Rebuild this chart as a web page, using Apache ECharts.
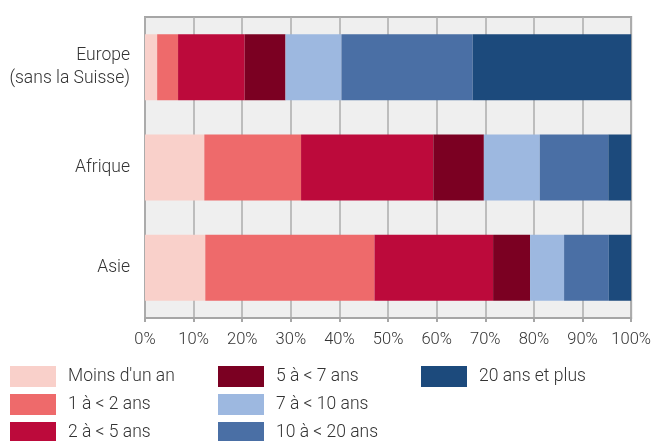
<!DOCTYPE html>
<html>
<head>
<meta charset="utf-8">
<script src="https://cdn.jsdelivr.net/npm/echarts@6/dist/echarts.min.js"></script>
<style>
html,body{margin:0;padding:0;background:#fff;}
#chart{width:654px;height:441px;}
</style>
</head>
<body>
<div id="chart"></div>
<script>
const categories = ['Europe\n(sans la Suisse)', 'Afrique', 'Asie'];
const seriesNames = ["Moins d'un an", '1 à < 2 ans', '2 à < 5 ans', '5 à < 7 ans', '7 à < 10 ans', '10 à < 20 ans', '20 ans et plus'];
const moinsUnAn = [2.5, 12.2, 12.4];
const unDeuxAns = [4.3, 19.9, 34.8];
const deuxCinqAns = [13.7, 27.2, 24.4];
const cinqSeptAns = [8.4, 10.4, 7.6];
const septDixAns = [11.5, 11.5, 7.0];
const dixVingtAns = [27.0, 14.1, 9.2];
const vingtPlus = [32.6, 4.7, 4.6];
const tickValues = [0, 10, 20, 30, 40, 50, 60, 70, 80, 90, 100];

const colors = ['#f9d0ca', '#ee6a6b', '#bc0a3b', '#7b0022', '#9db8e0', '#4a6fa5', '#1c4a7c'];
const allData = [moinsUnAn, unDeuxAns, deuxCinqAns, cinqSeptAns, septDixAns, dixVingtAns, vingtPlus];
const font = 'Roboto';

const chart = echarts.init(document.getElementById('chart'), null, {renderer: 'canvas'});

function legend(names, left) {
  return {
    data: names,
    orient: 'vertical',
    left: left,
    top: 366,
    height: 90,
    itemWidth: 46,
    itemHeight: 21,
    itemGap: 7,
    icon: 'rect',
    padding: 0,
    selectedMode: false,
    textStyle: {fontFamily: font, fontWeight: 300, fontSize: 17.5, color: '#333', padding: [0, 0, 0, 7]}
  };
}

chart.setOption({
  animation: false,
  color: colors,
  grid: {
    left: 145, right: 21, top: 17, bottom: 123,
    show: true, backgroundColor: '#efefef', borderColor: '#a6a6a6', borderWidth: 2
  },
  legend: [
    legend(seriesNames.slice(0, 3), 10),
    legend(seriesNames.slice(3, 6), 218),
    legend(seriesNames.slice(6), 421)
  ],
  xAxis: {
    type: 'value', min: tickValues[0], max: tickValues[tickValues.length - 1], interval: 10,
    axisLine: {show: true, lineStyle: {color: '#a6a6a6', width: 2}},
    axisTick: {show: true, length: 4, lineStyle: {color: '#a6a6a6', width: 2}},
    splitLine: {show: true, lineStyle: {color: '#acacac', width: 1.5}},
    axisLabel: {formatter: '{value}%', fontFamily: font, fontWeight: 300, fontSize: 16.5, color: '#333', margin: 13}
  },
  yAxis: {
    type: 'category', data: categories, inverse: true,
    axisLine: {show: false}, axisTick: {show: false},
    axisLabel: {fontFamily: font, fontWeight: 300, fontSize: 17.5, color: '#333', margin: 15, lineHeight: 23, align: 'right'}
  },
  series: seriesNames.map((name, i) => ({
    name: name, type: 'bar', stack: 'total', barWidth: 66,
    data: allData[i],
    itemStyle: {color: colors[i]}
  }))
});
</script>
</body>
</html>
